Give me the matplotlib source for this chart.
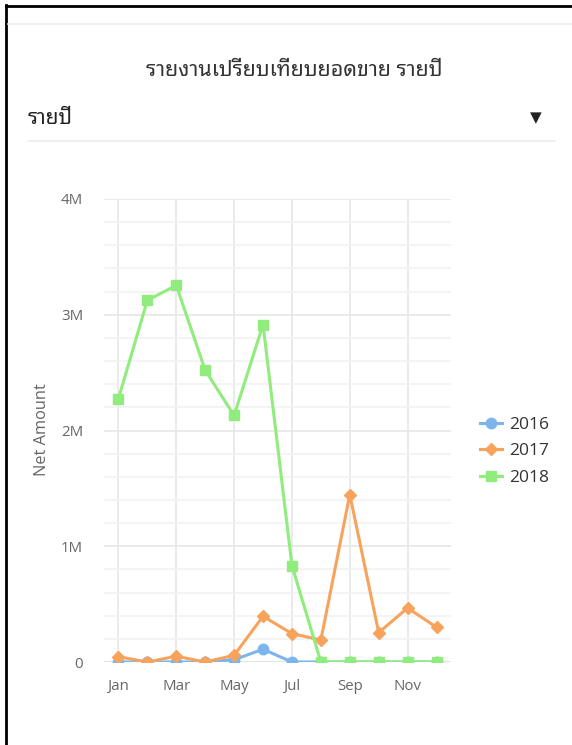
import numpy as np
import matplotlib
matplotlib.use('Agg')
from matplotlib import pyplot as plt
from matplotlib.lines import Line2D
from matplotlib.ticker import MultipleLocator, FuncFormatter

months = ['Jan', 'Feb', 'Mar', 'Apr', 'May', 'Jun',
          'Jul', 'Aug', 'Sep', 'Oct', 'Nov', 'Dec']
sales_2016 = [0, 0, 0, 0, 20000, 110000, 0, 0, 0, 0, 0, 0]
sales_2017 = [46000, 0, 50000, 0, 58000, 395000, 245000, 190000,
              1446000, 254000, 467000, 300000]
sales_2018 = [2276000, 3125000, 3254000, 2520000, 2130000, 2915000,
              832000, 0, 0, 0, 0, 0]
years = ['2016', '2017', '2018']

thai = ['Noto Sans Thai Looped', 'Open Sans', 'DejaVu Sans']
plt.rcParams['font.family'] = ['Open Sans', 'DejaVu Sans']

W, H = 572, 745
fig = plt.figure(figsize=(W / 100, H / 100), dpi=100)

def fx(px):
    return px / W

def fy(py):
    return 1 - py / H

# outer frame and header
fig.add_artist(Line2D([fx(6), 1], [fy(6), fy(6)], color='black', lw=2))
fig.add_artist(Line2D([fx(6), fx(6)], [fy(5), 0], color='black', lw=2))
fig.add_artist(Line2D([fx(8), 1], [fy(24), fy(24)], color='#eeeeee', lw=1.2))
fig.add_artist(Line2D([fx(28), fx(555)], [fy(141), fy(141)], color='#eeeeee', lw=1.2))

fig.text(fx(294), fy(70), 'รายงานเปรียบเทียบยอดขาย รายปี', family=thai,
         fontsize=15.4, color='#333333', ha='center', va='center')
fig.text(fx(28), fy(118), 'รายปี', family=thai, fontsize=15.0,
         fontweight='bold', color='#222222', ha='left', va='center')
fig.text(fx(536), fy(118), '▼', family=['DejaVu Sans'], fontsize=11,
         color='#222222', ha='center', va='center')

ax = fig.add_axes([fx(104), fy(662), fx(451) - fx(104), (662 - 199) / H])
x = np.arange(len(months))

ax.plot(x, sales_2016, color='#7cb5ec', lw=2.2, marker='o', ms=7.5,
        label=years[0], zorder=3)
ax.plot(x, sales_2017, color='#f7a35c', lw=2.2, marker='D', ms=6,
        label=years[1], zorder=4)
ax.plot(x, sales_2018, color='#90ed7d', lw=2.2, marker='s', ms=7.5,
        label=years[2], zorder=5)

ax.set_xlim(-0.5, 11.5)
ax.set_ylim(0, 4000000)
ax.set_xticks(x[::2])
ax.set_xticklabels(months[::2])
ax.yaxis.set_major_locator(MultipleLocator(1000000))
ax.yaxis.set_minor_locator(MultipleLocator(200000))
ax.yaxis.set_major_formatter(FuncFormatter(
    lambda v, p: '0' if v == 0 else '%dM' % round(v / 1e6)))

ax.grid(True, which='major', axis='both', color='#e6e6e6', lw=1.2, zorder=0)
ax.grid(True, which='minor', axis='y', color='#f2f2f2', lw=1.2, zorder=0)
ax.axhline(0, color='#ccd6eb', lw=1.5, zorder=1)
for s in ax.spines.values():
    s.set_visible(False)
ax.tick_params(axis='both', which='both', length=0, colors='#666666',
               labelsize=10.8)
ax.tick_params(axis='x', pad=12)
ax.tick_params(axis='y', pad=15)
ax.set_ylabel('Net Amount', color='#666666', fontsize=11.8)
ax.yaxis.set_label_coords((50 - 104) / (451 - 104), 0.502)

leg = ax.legend(loc='center left', bbox_to_anchor=(1.038, 0.455), frameon=False,
                prop={'size': 12.5}, labelspacing=0.58, handlelength=1.27,
                handletextpad=0.4)
for t in leg.get_texts():
    t.set_color('#333333')

fig.savefig('out.png', dpi=100)
